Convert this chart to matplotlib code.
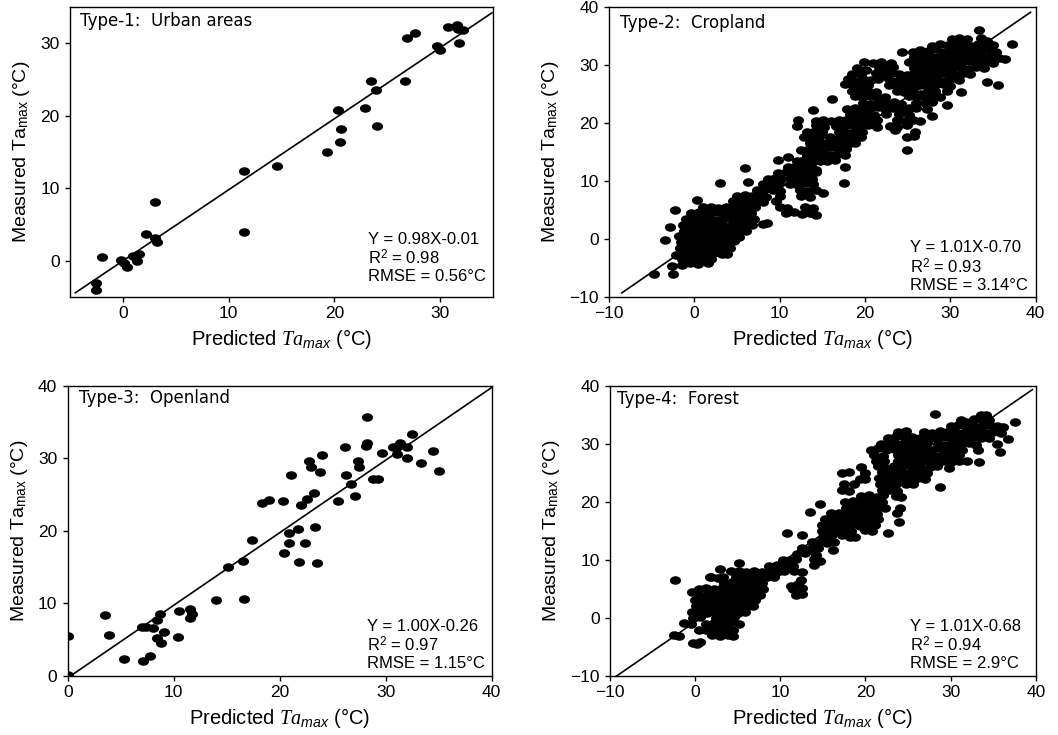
import matplotlib
matplotlib.use('Agg')
import matplotlib.pyplot as plt
from matplotlib.path import Path
from matplotlib.transforms import Affine2D

plt.rcParams['font.family'] = ['Liberation Sans', 'DejaVu Sans']
plt.rcParams['mathtext.fontset'] = 'custom'
plt.rcParams['mathtext.rm'] = 'Liberation Sans'
plt.rcParams['mathtext.it'] = 'Liberation Serif:italic'
plt.rcParams['mathtext.sf'] = 'Liberation Sans:italic'

# ---------------- data ----------------
urban_pts = [(-2.55, -3.0), (-2.55, -4.0), (-2.0, 0.5), (-0.2, 0.1), (0.1, -0.3), (0.4, -0.9),
             (1.0, 0.7), (1.3, -0.1), (1.5, 1.0), (2.2, 3.7), (3.0, 8.1), (3.0, 3.1), (3.2, 2.6),
             (11.45, 12.4), (11.45, 4.0), (14.6, 13.0), (19.3, 15.0), (20.3, 20.8), (20.5, 16.4),
             (20.6, 18.2), (22.85, 21.0), (23.5, 24.8), (23.9, 23.5), (24.05, 18.6), (26.7, 24.8),
             (26.9, 30.7), (27.6, 31.4), (29.7, 29.6), (29.95, 29.0), (30.7, 32.2), (31.55, 32.5),
             (31.7, 32.0), (31.8, 30.0), (32.2, 31.85)]

open_pts = [(0, 5.55), (0, 0.2), (3.5, 8.4), (3.9, 5.65), (5.35, 2.35), (7.15, 2.1), (7.0, 6.7),
            (7.35, 6.8), (7.75, 2.75), (8.0, 6.55), (8.4, 7.7), (8.4, 5.3), (8.7, 8.6), (8.8, 4.5),
            (9.1, 6.0), (10.4, 5.4), (10.5, 9.0), (11.5, 9.2), (11.55, 7.95), (11.7, 8.55),
            (14.0, 10.5), (15.1, 15.05), (16.5, 15.85), (16.6, 10.55), (17.4, 18.75), (18.3, 23.8),
            (19.0, 24.25), (20.35, 24.1), (20.4, 17.0), (20.9, 18.3), (20.9, 19.65), (21.1, 27.7),
            (21.75, 20.2), (21.85, 15.7), (22.0, 23.5), (22.4, 18.3), (22.6, 24.35), (22.8, 29.6),
            (23.0, 28.85), (23.25, 25.2), (23.35, 20.5), (23.5, 15.6), (23.85, 28.1), (23.95, 30.4),
            (25.5, 24.15), (26.2, 31.5), (26.3, 27.65), (26.7, 26.45), (27.1, 24.8), (27.35, 29.6),
            (27.5, 28.85), (28.2, 35.7), (28.2, 32.1), (28.1, 31.65), (28.8, 27.1), (29.3, 27.1),
            (29.7, 30.7), (30.7, 31.5), (31.05, 30.6), (31.35, 32.15), (30.95, 31.6), (32.05, 31.5),
            (32.05, 30.1), (32.5, 33.35), (33.3, 29.4), (34.45, 30.95), (35.0, 28.2)]

crop_pts = [
    (33.4, 36.0),
    (30.2, 34.5), (31.0, 34.7), (31.9, 34.4), (33.6, 34.6), (34.3, 34.2), (37.2, 33.6),
    (27.9, 33.3), (28.8, 33.6), (29.7, 33.4), (30.6, 33.6), (31.5, 33.5), (32.4, 33.3), (33.3, 33.7),
    (34.2, 33.4), (35.0, 33.5),
    (24.3, 32.3), (25.6, 32.2), (26.5, 32.6), (27.4, 32.4), (28.3, 32.7), (29.2, 32.3), (30.1, 32.6),
    (31.0, 32.4), (31.9, 32.6), (32.8, 32.3), (33.7, 32.5), (34.6, 32.6), (35.3, 32.2),
    (25.8, 31.4), (26.7, 31.6), (27.6, 31.5), (28.5, 31.3), (29.4, 31.6), (30.3, 31.4), (31.2, 31.6),
    (32.1, 31.4), (33.0, 31.6), (33.9, 31.3), (34.8, 31.5), (35.7, 31.2), (36.4, 31.0),
    (19.9, 30.6), (20.9, 30.4), (21.9, 30.5), (23.0, 30.3), (25.1, 30.6), (26.0, 30.4), (26.9, 30.6),
    (27.8, 30.5), (28.7, 30.3), (29.6, 30.6), (30.5, 30.4), (31.4, 30.5), (32.3, 30.7), (33.2, 30.4),
    (34.1, 30.6), (35.0, 30.3),
    (19.1, 29.4), (20.1, 29.2), (21.6, 29.6), (22.6, 29.4), (23.3, 29.7), (25.8, 29.5), (26.7, 29.3),
    (27.6, 29.6), (28.5, 29.4), (29.4, 29.6), (30.3, 29.4), (31.2, 29.5), (32.1, 29.3), (33.0, 29.6),
    (33.9, 29.4),
    (18.5, 28.5), (19.5, 28.4), (21.3, 28.6), (22.2, 28.4), (23.1, 28.7), (24.0, 28.5), (24.9, 28.3),
    (25.8, 28.6), (26.7, 28.4), (27.6, 28.6), (28.5, 28.4), (29.4, 28.6), (30.3, 28.3), (31.2, 28.5),
    (32.3, 28.4),
    (18.0, 27.5), (18.9, 27.3), (19.8, 27.6), (20.7, 27.4), (21.5, 27.6), (22.8, 27.5), (23.7, 27.3),
    (24.6, 27.6), (25.5, 27.4), (26.4, 27.6), (27.3, 27.4), (28.2, 27.6), (29.1, 27.3), (30.0, 27.5),
    (31.0, 27.4), (34.3, 27.0),
    (17.7, 26.8), (18.6, 26.5), (19.5, 26.3), (20.4, 26.6), (22.8, 26.5), (23.7, 26.3), (24.6, 26.6),
    (25.5, 26.4), (26.4, 26.6), (27.3, 26.3), (28.2, 26.5), (29.1, 26.7), (30.0, 26.4), (35.6, 26.5),
    (18.5, 25.5), (19.4, 25.3), (20.3, 25.6), (21.3, 25.4), (23.7, 25.6), (24.6, 25.3), (25.5, 25.6),
    (26.4, 25.0), (27.3, 25.4), (28.2, 25.6), (29.6, 25.6), (31.2, 25.3),
    (16.1, 24.2), (18.8, 24.6), (19.7, 24.4), (20.6, 24.6), (21.5, 24.3), (22.4, 24.5), (25.2, 24.6),
    (26.1, 24.4), (27.0, 24.6), (27.9, 24.3), (28.8, 24.5),
    (19.8, 23.5), (20.7, 23.3), (21.6, 23.6), (22.5, 23.4), (23.4, 23.6), (24.2, 23.3), (26.0, 23.5),
    (27.0, 23.4), (27.8, 23.6), (29.6, 23.1),
    (13.9, 22.2), (17.9, 22.4), (18.8, 22.6), (19.7, 22.3), (20.6, 22.5), (21.5, 22.7), (22.4, 22.4),
    (23.3, 22.6), (24.2, 22.3), (25.1, 22.5), (26.0, 22.6), (27.3, 22.4),
    (18.3, 21.6), (19.2, 21.4), (20.1, 21.6), (21.0, 21.3), (22.5, 21.5), (24.0, 21.6), (25.2, 21.4),
    (27.9, 21.2),
    (12.1, 20.6), (14.2, 20.4), (15.1, 20.6), (16.0, 20.3), (16.9, 20.5), (17.8, 20.6), (18.7, 20.4),
    (19.6, 20.6), (20.5, 20.4), (21.4, 20.6), (23.8, 20.5), (24.7, 20.3), (25.6, 20.6), (26.5, 20.4),
    (12.0, 19.4), (14.3, 19.6), (15.2, 19.3), (16.6, 19.5), (17.5, 19.3), (18.5, 19.6), (19.4, 19.4),
    (20.4, 19.6), (21.4, 19.3), (22.9, 19.5), (23.8, 19.3), (24.9, 19.6),
    (13.2, 18.5), (14.1, 18.6), (15.0, 18.4), (17.0, 18.5), (17.9, 18.3), (18.8, 18.6), (19.7, 18.4),
    (23.5, 18.8), (25.9, 18.4),
    (12.8, 17.6), (13.7, 17.4), (14.6, 17.6), (15.9, 17.5), (16.8, 17.3), (17.7, 17.6), (18.6, 17.4),
    (19.5, 17.6), (24.9, 17.6), (25.8, 17.7),
    (13.6, 16.5), (14.5, 16.3), (15.4, 16.6), (16.3, 16.4), (17.2, 16.6), (18.0, 16.3), (18.8, 16.5),
    (12.5, 15.3), (13.4, 15.6), (14.3, 15.4), (15.2, 15.6), (16.1, 15.8), (17.0, 15.4), (17.8, 15.6),
    (24.9, 15.3),
    (13.2, 14.5), (14.1, 14.3), (15.0, 14.6), (15.9, 14.4), (16.8, 14.6), (17.6, 14.4), (11.0, 14.2),
    (9.8, 13.6), (12.0, 13.4), (12.9, 13.6), (13.8, 13.3), (14.7, 13.5), (15.6, 13.4), (16.5, 13.6),
    (11.0, 12.4), (11.9, 12.6), (12.8, 12.4), (13.7, 12.6), (17.6, 12.4), (14.3, 11.9), (5.9, 12.3),
    (9.8, 11.4), (10.7, 11.6), (11.6, 11.3), (12.5, 11.5), (13.4, 11.4), (14.2, 11.6),
    (8.6, 10.4), (9.5, 10.6), (10.2, 10.3), (11.3, 10.6), (12.2, 10.4), (13.1, 10.6), (13.8, 10.3),
    (3.0, 9.7), (6.3, 9.9),
    (8.1, 9.4), (9.0, 9.6), (9.9, 9.4), (11.2, 9.5), (12.1, 9.3), (13.0, 9.6), (13.9, 9.4), (17.5, 9.7),
    (7.4, 8.4), (8.3, 8.6), (9.2, 8.5), (10.0, 8.3), (12.4, 8.5), (13.3, 8.3), (14.3, 8.4),
    (5.0, 7.5), (5.9, 7.6), (6.8, 7.4), (7.7, 7.6), (8.4, 7.3), (10.0, 7.5), (12.5, 7.5), (13.5, 7.3),
    (15.1, 7.9),
    (0.3, 6.7), (4.5, 6.5), (5.4, 6.6), (6.3, 6.4), (7.2, 6.6), (8.0, 6.4), (9.6, 6.5),
    (1.0, 5.5), (1.9, 5.6), (2.8, 5.4), (3.7, 5.6), (4.6, 5.3), (5.5, 5.6), (6.3, 5.4), (7.1, 5.6),
    (10.0, 5.5), (10.9, 5.3), (13.0, 5.6), (13.9, 5.4),
    (-0.4, 4.5), (0.5, 4.6), (1.4, 4.4), (2.3, 4.6), (3.2, 4.4), (4.1, 4.6), (5.0, 4.3), (5.9, 4.6),
    (6.6, 4.4), (10.8, 4.4), (11.7, 4.6), (12.6, 4.3), (13.5, 4.5), (14.2, 4.2),
    (-1.0, 3.5), (-0.1, 3.6), (0.8, 3.4), (1.7, 3.6), (2.6, 3.3), (3.5, 3.6), (4.4, 3.4), (5.3, 3.6),
    (6.2, 3.4), (7.0, 3.5),
    (-2.9, 2.1), (-1.3, 2.5), (-0.4, 2.6), (0.5, 2.4), (1.4, 2.6), (2.3, 2.4), (3.2, 2.6), (4.1, 2.3),
    (5.0, 2.5), (5.9, 2.6), (6.8, 2.4), (8.0, 2.6), (8.5, 2.7),
    (-1.2, 1.4), (-0.3, 1.6), (0.6, 1.3), (1.5, 1.6), (2.4, 1.4), (3.3, 1.6), (4.2, 1.4), (5.1, 1.6),
    (6.0, 1.4),
    (-1.8, 0.5), (-0.9, 0.6), (0.0, 0.4), (0.9, 0.6), (1.8, 0.3), (2.7, 0.6), (3.6, 0.4), (4.5, 0.6),
    (5.2, 0.4),
    (-3.4, -0.1), (-1.6, -0.5), (-0.7, -0.3), (0.2, -0.6), (1.1, -0.4), (2.0, -0.6), (2.9, -0.4),
    (3.8, -0.5), (4.7, -0.3),
    (-1.7, -1.5), (-0.8, -1.4), (0.1, -1.6), (1.0, -1.3), (1.9, -1.6), (2.8, -1.4), (3.7, -1.5),
    (4.2, -1.6),
    (-2.1, -2.8), (-1.3, -2.5), (-0.4, -2.6), (0.5, -2.4), (1.4, -2.6), (2.3, -2.4), (3.2, -2.5),
    (3.8, -2.6),
    (-1.5, -3.5), (-0.6, -3.4), (0.3, -3.6), (1.2, -3.4), (2.0, -3.5),
    (-2.65, -4.6), (-1.5, -4.4), (-0.5, -4.2), (0.4, -4.3), (1.6, -4.2),
    (-4.7, -6.1), (-2.45, -6.0), (-2.3, 5.0),
]

forest_pts = [
    (28.2, 35.2), (33.6, 34.9), (34.2, 35.0),
    (31.2, 34.1), (31.8, 33.8), (32.8, 34.2), (33.7, 34.0), (34.5, 34.1),
    (30.0, 33.0), (30.9, 33.2), (31.8, 32.9), (32.7, 33.1), (33.6, 32.9), (34.5, 33.2), (35.4, 33.0),
    (36.2, 32.8), (37.6, 33.7),
    (23.8, 32.0), (24.8, 32.2), (26.9, 32.1), (27.8, 31.9), (28.7, 32.2), (29.6, 32.0), (30.5, 32.1),
    (31.4, 31.9), (32.3, 32.2), (33.2, 32.0), (34.1, 31.8), (35.0, 32.1), (35.9, 31.9),
    (22.6, 31.0), (23.5, 31.1), (24.6, 30.9), (25.5, 31.1), (26.4, 30.9), (27.3, 31.1), (28.2, 30.9),
    (29.1, 31.2), (30.0, 30.9), (30.9, 31.1), (31.8, 30.9), (32.7, 31.1), (33.6, 30.9), (34.5, 31.0),
    (36.7, 30.8),
    (21.8, 30.0), (22.7, 30.2), (23.6, 29.9), (24.5, 30.1), (25.4, 29.9), (26.3, 30.1), (27.2, 30.2),
    (28.5, 30.0), (29.4, 29.8), (30.3, 30.1), (31.2, 29.9), (32.1, 30.1), (33.0, 29.8), (35.5, 30.0),
    (20.6, 29.0), (21.5, 29.2), (22.4, 28.9), (23.3, 29.1), (24.2, 28.9), (25.1, 29.1), (26.0, 28.9),
    (26.9, 29.1), (27.8, 28.9), (28.7, 29.2), (29.6, 28.9), (30.5, 29.1), (31.3, 28.9), (33.2, 29.0),
    (21.0, 28.0), (22.0, 27.9), (23.8, 28.1), (24.7, 27.9), (25.6, 28.1), (26.5, 27.8), (27.4, 28.1),
    (28.3, 27.9), (29.2, 28.1), (30.1, 27.9), (31.0, 28.1), (35.8, 28.5),
    (21.2, 27.0), (22.2, 27.1), (23.8, 27.0), (24.7, 26.8), (25.6, 27.1), (26.5, 26.9), (27.4, 27.1),
    (28.3, 26.9), (29.2, 27.1), (30.1, 26.8), (31.0, 27.0), (31.9, 27.1), (33.3, 26.9),
    (19.5, 26.0), (21.5, 26.1), (22.4, 25.9), (23.3, 26.1), (24.2, 25.9), (25.3, 26.1), (26.4, 25.9),
    (27.6, 26.0), (28.4, 26.1), (29.8, 25.8),
    (17.2, 25.0), (18.1, 25.1), (19.9, 25.0), (21.9, 25.1), (22.8, 24.9), (23.7, 25.1), (24.6, 24.9),
    (25.5, 25.1), (26.4, 24.9), (27.2, 25.0),
    (19.3, 24.0), (20.0, 23.9), (21.6, 24.1), (22.5, 23.9), (23.5, 24.0), (24.4, 24.1), (25.3, 23.9),
    (26.2, 24.1), (27.0, 23.9),
    (17.5, 23.0), (18.6, 23.1), (21.7, 23.0), (22.7, 22.9), (23.6, 23.1), (24.7, 23.0), (25.6, 23.1),
    (17.3, 22.1), (18.1, 21.9), (21.9, 22.0), (22.8, 22.1), (23.7, 21.9), (28.8, 22.5),
    (19.5, 21.0), (20.4, 21.1), (21.3, 20.9), (22.0, 21.1), (23.6, 21.0), (24.2, 20.9),
    (14.6, 19.7), (17.6, 20.0), (18.5, 20.1), (19.4, 19.9), (20.3, 20.1), (21.2, 19.9), (21.9, 20.0),
    (17.7, 19.0), (18.6, 19.1), (19.5, 18.9), (20.4, 19.1), (21.3, 18.9), (22.3, 19.0),
    (13.5, 18.3), (16.0, 18.0), (16.9, 18.1), (17.8, 17.9), (18.7, 18.1), (19.6, 17.9), (20.5, 18.1),
    (21.4, 17.9), (23.7, 18.0), (24.0, 18.9),
    (15.3, 17.0), (16.2, 17.1), (17.1, 16.9), (18.0, 17.1), (18.9, 16.9), (19.8, 17.1), (20.7, 16.9),
    (21.5, 17.0), (23.9, 16.6),
    (14.9, 16.0), (15.8, 15.9), (16.7, 16.1), (17.6, 15.9), (18.5, 16.1), (19.4, 15.9), (20.3, 16.1),
    (21.1, 16.0),
    (14.9, 15.0), (15.8, 15.1), (16.7, 14.9), (17.6, 15.1), (18.3, 14.9), (19.9, 15.1), (20.8, 14.9),
    (22.7, 14.6),
    (15.0, 13.9), (16.0, 14.1), (17.3, 14.2), (18.2, 13.9), (18.8, 14.0),
    (10.75, 14.6), (12.5, 14.3),
    (13.7, 13.0), (14.6, 13.1), (15.5, 12.9), (16.3, 13.0),
    (12.6, 12.1), (13.5, 11.9), (14.4, 12.1), (16.2, 11.7),
    (12.0, 11.0), (12.9, 11.1), (14.2, 10.8),
    (10.3, 10.0), (11.1, 9.9), (11.8, 10.2), (13.9, 10.1), (14.6, 9.8),
    (8.7, 9.0), (9.6, 9.1), (10.5, 8.9), (11.5, 9.0), (14.0, 9.1),
    (4.2, 8.0), (5.1, 8.1), (6.0, 7.9), (6.9, 8.1), (7.8, 7.9), (8.7, 8.1), (9.6, 7.9), (10.4, 8.0),
    (11.6, 8.1), (12.5, 7.9), (2.9, 8.4), (5.1, 9.4),
    (1.8, 7.1), (2.7, 6.9), (3.3, 7.0), (4.8, 7.1), (5.7, 6.9), (6.6, 7.1), (7.5, 6.9), (8.4, 7.0),
    (9.2, 7.1), (12.4, 6.6), (12.1, 5.8),
    (3.4, 6.0), (4.3, 6.1), (5.2, 5.9), (6.1, 6.1), (7.0, 5.9), (7.9, 6.0), (11.3, 5.5),
    (0.4, 5.0), (1.3, 5.1), (2.2, 4.9), (3.1, 5.1), (4.0, 4.9), (4.9, 5.1), (5.8, 4.9), (6.7, 5.1),
    (7.6, 4.9), (8.0, 5.0), (11.5, 5.0), (12.5, 5.1),
    (-0.4, 4.4), (0.5, 4.0), (1.4, 3.9), (2.3, 4.1), (3.2, 3.9), (4.1, 4.1), (5.0, 3.9), (5.9, 4.1),
    (6.8, 3.9), (7.6, 4.0), (11.8, 4.0), (12.6, 4.1),
    (0.0, 3.0), (0.9, 3.1), (1.8, 2.9), (2.7, 3.1), (3.6, 2.9), (4.5, 3.1), (5.4, 2.9), (6.3, 3.1),
    (7.0, 3.0),
    (0.1, 2.0), (1.0, 2.1), (1.9, 1.9), (2.8, 2.1), (3.7, 1.9), (4.6, 2.1), (5.5, 1.9), (6.2, 2.0),
    (6.8, 2.1),
    (-0.4, 1.0), (0.5, 1.1), (1.4, 0.9), (2.3, 1.1), (3.2, 0.9), (4.1, 1.1), (5.0, 0.9), (5.8, 1.0),
    (-0.3, 0.0), (0.6, 0.1), (2.5, -0.1), (3.4, 0.1), (4.3, -0.1), (4.5, 0.2),
    (-1.3, -0.9), (-0.5, -1.1), (1.3, -1.0), (2.2, -0.9), (3.1, -1.1), (4.0, -0.9), (5.1, -1.0),
    (0.4, -2.0), (1.3, -2.1), (2.2, -1.9), (3.1, -2.1), (4.0, -1.9), (4.4, -2.0),
    (-2.5, -3.0), (-1.9, -3.2), (2.0, -3.0), (2.9, -3.1), (3.8, -2.9), (4.4, -3.1),
    (-0.3, -4.3), (0.2, -4.5), (0.6, -4.1),
    (-2.4, 6.5), (1.75, 7.1),
]

titles = ['Type-1:  Urban areas', 'Type-2:  Cropland', 'Type-3:  Openland', 'Type-4:  Forest']
slopes = [0.98, 1.01, 1.00, 1.01]
intercepts = [-0.01, -0.70, -0.26, -0.68]
r2_vals = ['0.98', '0.93', '0.97', '0.94']
rmse_vals = ['0.56', '3.14', '1.15', '2.9']
fit_ranges = [(-4.5, 34.9), (-8.5, 39.4), (0.2, 40.0), (-9.3, 39.6)]
limits = [(-5, 35), (-10, 40), (0, 40), (-10, 40)]
tick_sets = [[0, 10, 20, 30], [-10, 0, 10, 20, 30, 40], [0, 10, 20, 30, 40], [-10, 0, 10, 20, 30, 40]]

# ---------------- layout ----------------
fig = plt.figure(figsize=(10.58, 7.35), dpi=100)
rects = [[0.0662, 0.5959, 0.3998, 0.3946],
         [0.5756, 0.5959, 0.4033, 0.3946],
         [0.0640, 0.0803, 0.4007, 0.3950],
         [0.5766, 0.0803, 0.4024, 0.3950]]
stat_y = [(0.200, 0.135, 0.070), (0.169, 0.103, 0.041), (0.169, 0.107, 0.044), (0.169, 0.107, 0.044)]
title_xy = [(0.024, 0.953), (0.026, 0.944), (0.027, 0.957), (0.017, 0.953)]

ell = Path.unit_circle().transformed(Affine2D().scale(1.3, 1.0))

all_pts = [urban_pts, crop_pts, open_pts, forest_pts]
for i in range(4):
    ax = fig.add_axes(rects[i])
    pts = all_pts[i]
    xs = [p[0] for p in pts]
    ys = [p[1] for p in pts]
    ax.plot(xs, ys, linestyle='none', marker=ell, markersize=8.0, color='black',
            markeredgewidth=0, zorder=3)
    x0, x1 = fit_ranges[i]
    ax.plot([x0, x1], [slopes[i] * x0 + intercepts[i], slopes[i] * x1 + intercepts[i]],
            color='black', lw=1.2, zorder=2)
    lo, hi = limits[i]
    ax.set_xlim(lo, hi)
    ax.set_ylim(lo, hi)
    ax.set_xticks(tick_sets[i])
    ax.set_yticks(tick_sets[i])
    ax.tick_params(direction='out', length=3.5, width=1, labelsize=12.5, pad=3,
                   top=False, right=False)
    ax.tick_params(axis='y', pad=4)
    for sp in ax.spines.values():
        sp.set_linewidth(1.0)
        sp.set_color('black')
    ax.set_xlabel(r'Predicted $\mathit{Ta}_{\mathsf{max}}$ (°C)', fontsize=14.5, labelpad=4)
    ax.set_ylabel(r'Measured Ta$_{\mathrm{max}}$ (°C)', fontsize=14, labelpad=6)
    tx, ty = title_xy[i]
    ax.text(tx, ty, titles[i], transform=ax.transAxes, fontsize=12, family='DejaVu Sans',
            ha='left', va='center')
    s = '+' if intercepts[i] >= 0 else '-'
    sy = stat_y[i]
    ax.text(0.705, sy[0], 'Y = %.2fX%s%.2f' % (slopes[i], s, abs(intercepts[i])),
            transform=ax.transAxes, fontsize=12, ha='left', va='center')
    ax.text(0.705, sy[1], r'R$^{2}$ = ' + r2_vals[i], transform=ax.transAxes, fontsize=12,
            ha='left', va='center')
    ax.text(0.705, sy[2], 'RMSE = ' + rmse_vals[i] + '°C', transform=ax.transAxes, fontsize=12,
            ha='left', va='center')

fig.savefig('out.png', dpi=100, facecolor='white')
